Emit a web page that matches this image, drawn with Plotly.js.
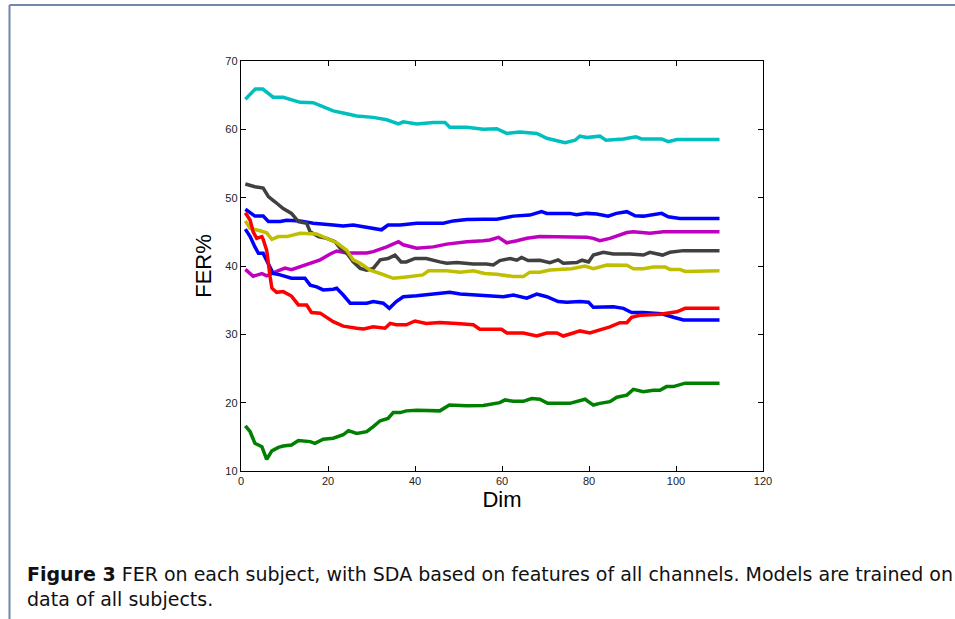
<!DOCTYPE html>
<html>
<head>
<meta charset="utf-8">
<script src="https://cdn.plot.ly/plotly-3.0.1.min.js"></script>
<style>
html,body{margin:0;padding:0;background:#fff;}
#chart{width:955px;height:619px;}
</style>
</head>
<body>
<div id="chart"></div>
<script>
// Data (Dim vs FER%)
const cyanX = [1,3.3,5,7.4,9.7,13.6,16.6,18.9,21.2,23.5,26.6,30.4,33.5,36.2,37.3,40.4,44.2,46.9,48,51.9,55.7,58.8,61.1,64.1,68,70.3,74.5,76.8,77.9,79.5,82.5,83.9,87.9,90.8,92.1,96.7,98.2,100.2,110];
const cyanY = [64.4,65.9,65.9,64.7,64.7,63.95,63.9,63.3,62.7,62.4,61.95,61.75,61.4,60.8,61.1,60.8,61,61,60.3,60.3,60,60.1,59.4,59.6,59.4,58.7,58.05,58.4,59,58.8,59,58.4,58.6,58.9,58.6,58.6,58.2,58.5,58.5];

const blue1X = [1,3.2,5.1,6.3,9,10.5,13.6,16.6,21.2,23.5,25.8,28.9,32.3,33.8,36.6,40.4,46.5,48.8,51.9,55.7,58.8,62.6,66.4,69.1,70.3,75.6,77.1,79.5,81.8,84.4,86.3,88.7,90.6,92.5,96.7,98.2,100.9,110];
const blue1Y = [48.3,47.3,47.3,46.5,46.5,46.7,46.6,46.25,46,45.85,46,45.7,45.3,46,46,46.25,46.25,46.6,46.8,46.85,46.85,47.3,47.45,47.95,47.7,47.7,47.5,47.7,47.6,47.3,47.7,47.95,47.35,47.3,47.7,47.2,46.95,46.95];

const magentaX = [1,2.8,4.8,5.9,8.2,10.1,11.6,13.6,15.9,18.2,20.5,22,24.3,28.9,30.4,33.5,36.2,37.3,40.4,44.2,47.3,51.9,55.7,57.2,59.2,61.1,63.4,65.7,68.7,79.5,81,82.5,84.8,86.4,88.7,90.2,94,97.1,110];
const magentaY = [39.5,38.5,38.9,38.55,39.2,39.7,39.45,39.9,40.5,40.9,41.75,42.2,41.9,41.9,42.1,42.8,43.55,43.1,42.6,42.8,43.2,43.55,43.7,43.8,44.2,43.4,43.7,44.05,44.3,44.2,44.05,43.7,44.05,44.4,44.9,45,44.8,45,45];

const grayX = [1,3.2,5.1,6.3,7.8,9.7,11.6,13.2,15.1,15.9,17.8,19.7,21.6,22.8,24.3,25.8,27.4,28.9,30.4,32,33.8,35.4,36.8,38,40,42.6,45.7,47.3,49.6,53.4,56.4,58,59.5,61.9,63.4,64.5,66,68.7,71,72.9,74.1,77.2,78.4,79.9,81,83.3,85.6,89.4,92.5,94,96.9,98.6,101.7,110];
const grayY = [52,51.6,51.4,50.15,49.4,48.4,47.7,46.5,46.25,45,44.3,44.05,43.55,42.6,41.9,40.6,39.65,39.4,39.65,40.9,41.1,41.6,40.6,40.6,41.1,41.1,40.6,40.4,40.5,40.3,40.3,40.15,40.8,41.1,40.85,41.25,40.8,40.85,40.5,40.9,40.4,40.5,40.85,40.6,41.6,42,41.75,41.75,41.6,42,41.6,42,42.25,42.25];

const olivX = [1,2.1,4.4,5.9,7.1,8.6,10.5,13.6,17.4,18.9,22,24.3,25.8,27.4,29.7,32,35,38,41.8,43.1,47.3,50.4,53.4,56,58.8,62.6,64.9,66.4,68.7,71,73.3,76,79.1,81,84.1,88.7,90.2,92.5,94.8,97.5,98.6,100.9,102.1,110];
const olivY = [46.6,45.5,45.15,44.85,43.9,44.3,44.3,44.8,44.7,44.3,43.4,42.3,40.9,40.4,39.4,38.9,38.2,38.4,38.7,39.3,39.3,39.1,39.3,38.9,38.8,38.45,38.45,39.1,39.1,39.4,39.5,39.6,40,39.6,40.15,40.1,39.6,39.6,39.85,39.85,39.5,39.5,39.2,39.3];

const blue2X = [1,2.1,3.2,4,5.1,6.3,7.4,9,11.6,14.7,15.9,17.4,18.9,21.2,22,23.5,25.1,28.9,30.4,32.7,34.1,35.7,37.3,40.4,44.2,45.7,48,50.4,53.4,56,58.8,60.3,62.6,65.7,68,70.3,72.9,74.9,77.9,79.9,81,83.3,85.6,87.9,89.8,92.5,96.7,99.4,101.7,110];
const blue2Y = [45.4,44.3,42.8,41.85,41.85,40.15,38.9,38.7,38.2,38.2,37.2,36.95,36.5,36.6,36.75,35.75,34.55,34.55,34.8,34.55,33.8,34.8,35.5,35.65,35.9,35.9,36.15,35.9,35.75,35.6,35.5,35.5,35.75,35.3,35.9,35.5,34.8,34.7,34.8,34.7,33.95,33.95,34.05,33.8,33.2,33.2,33,32.5,32.1,32.1];

const redX = [1,2.1,2.8,3.6,4.8,5.1,5.9,6.3,6.7,7.1,8.2,9.7,11.6,13.2,15.1,16.2,18.2,21.2,23.5,26.6,28.2,30.4,33.1,34.3,35.7,38,40,42.6,45.7,49.6,53.4,54.9,59.9,61.1,64.9,68,70.3,72.6,74.1,76.4,77.9,80.2,82.5,84.8,87.1,88.7,89.8,91.7,96.3,100.2,102.1,110];
const redY = [47.8,46.7,45,44.05,44.3,43.9,42.3,39.9,38.4,36.75,36.15,36.25,35.6,34.3,34.3,33.2,33.1,31.85,31.2,30.9,30.8,31.1,30.9,31.6,31.4,31.4,31.95,31.6,31.75,31.6,31.4,30.75,30.75,30.2,30.2,29.75,30.2,30.2,29.75,30.2,30.5,30.2,30.6,31.1,31.7,31.7,32.5,32.8,32.95,33.3,33.8,33.8];

const greenX = [1,2.1,3.2,4.8,5.9,7.1,8.6,9.7,11.6,13.2,15.9,17,18.9,21.2,23.5,24.7,26.6,28.9,30.4,32,33.8,35,36.6,38,40.4,44.2,45.7,47.9,51.9,55.7,58,59.5,60.7,62.6,64.9,66.8,68.7,70.5,75.6,77.1,79.1,81,82.5,84.8,86.4,88.7,90.2,92.5,94.8,96.3,97.8,99.4,102.1,110];
const greenY = [16.6,15.75,14.05,13.55,11.7,12.95,13.45,13.65,13.8,14.45,14.3,14.05,14.65,14.8,15.3,15.9,15.5,15.75,16.5,17.35,17.7,18.55,18.55,18.8,18.9,18.8,18.8,19.65,19.55,19.6,19.8,20,20.4,20.2,20.2,20.6,20.5,19.9,19.9,20.15,20.5,19.65,19.9,20.15,20.8,21.1,21.95,21.6,21.8,21.8,22.35,22.35,22.85,22.85];

const xTicks = [0,20,40,60,80,100,120];
const yTicks = [10,20,30,40,50,60,70];
const xLabel = 'Dim';
const yLabel = 'FER%';
const captionBold = 'Figure 3';
const captionText = ' FER on each subject, with SDA based on features of all channels. Models are trained on<br>data of all subjects.';

const series = [
  {x: cyanX, y: cyanY, c: '#00bfbf'},
  {x: blue1X, y: blue1Y, c: '#0000ff'},
  {x: magentaX, y: magentaY, c: '#bf00bf'},
  {x: grayX, y: grayY, c: '#404040'},
  {x: olivX, y: olivY, c: '#bfbf00'},
  {x: blue2X, y: blue2Y, c: '#0000ff'},
  {x: redX, y: redY, c: '#ff0000'},
  {x: greenX, y: greenY, c: '#008000'}
];

const traces = series.map(s => ({
  type: 'scatter', mode: 'lines', x: s.x, y: s.y,
  line: {color: s.c, width: 3.5}, hoverinfo: 'skip', showlegend: false
}));

const axisCommon = {
  showgrid: false, zeroline: false, showline: true, mirror: 'ticks',
  linecolor: '#000', linewidth: 1.2, ticks: 'inside', ticklen: 5, tickcolor: '#000',
  tickfont: {family: 'Liberation Sans, Arial, sans-serif', size: 11, color: '#222'}
};

const L = 241, R = 763, T = 61, B = 471;
const W = R - L, H = B - T;
function px2x(p){ return (p - L) / W; }
function py2y(p){ return (B - p) / H; }

const layout = {
  width: 955, height: 619,
  margin: {l: L, r: 955 - R, t: T, b: 619 - B, pad: 0},
  paper_bgcolor: '#fff', plot_bgcolor: '#fff',
  showlegend: false,
  xaxis: Object.assign({}, axisCommon, {
    range: [0, 120], tickvals: xTicks, ticktext: xTicks.map(String),
    title: {text: xLabel, font: {family: 'Liberation Sans, Arial, sans-serif', size: 22, color: '#000'}, standoff: 4}
  }),
  yaxis: Object.assign({}, axisCommon, {
    range: [10, 70], tickvals: yTicks, ticktext: yTicks.map(String),
    title: {text: yLabel, font: {family: 'Liberation Sans, Arial, sans-serif', size: 22, color: '#000'}, standoff: 7}
  }),
  shapes: [
    {type: 'line', xref: 'paper', yref: 'paper', x0: px2x(9.5), x1: px2x(960), y0: py2y(5), y1: py2y(5), line: {color: '#7088ac', width: 2}},
    {type: 'line', xref: 'paper', yref: 'paper', x0: px2x(9.5), x1: px2x(9.5), y0: py2y(5), y1: py2y(625), line: {color: '#7088ac', width: 2}}
  ],
  annotations: [
    {xref: 'paper', yref: 'paper', x: px2x(25), y: py2y(561), xanchor: 'left', yanchor: 'top', align: 'left', showarrow: false,
     text: '<b>' + captionBold + '</b>' + captionText,
     font: {family: 'DejaVu Sans, sans-serif', size: 19, color: '#111'}}
  ]
};

Plotly.newPlot('chart', traces, layout, {staticPlot: true, displayModeBar: false});
</script>
</body>
</html>
